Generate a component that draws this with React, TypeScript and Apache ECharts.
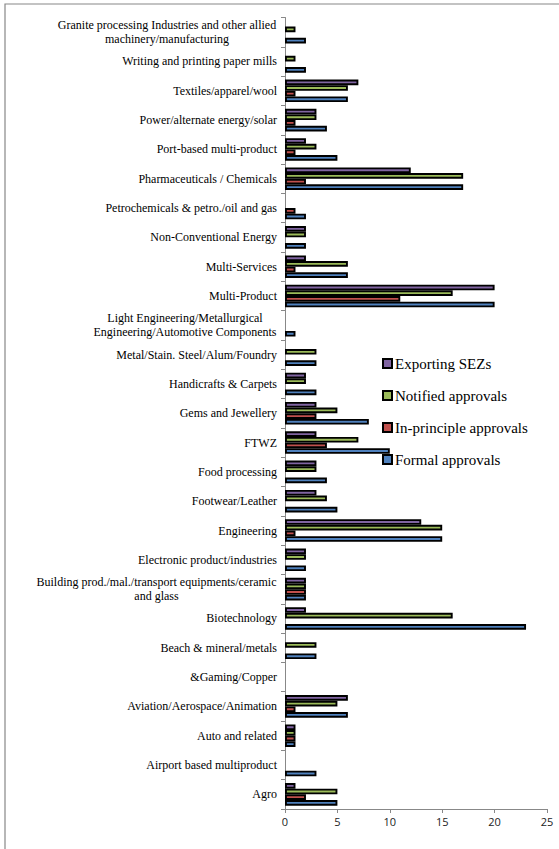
import React, { useEffect, useRef } from "react";
import * as echarts from "echarts";

const categories = [
  "Agro",
  "Airport based multiproduct",
  "Auto and related",
  "Aviation/Aerospace/Animation",
  "&Gaming/Copper",
  "Beach & mineral/metals",
  "Biotechnology",
  "Building prod./mal./transport equipments/ceramic\nand glass",
  "Electronic product/industries",
  "Engineering",
  "Footwear/Leather",
  "Food processing",
  "FTWZ",
  "Gems and Jewellery",
  "Handicrafts & Carpets",
  "Metal/Stain. Steel/Alum/Foundry",
  "Light Engineering/Metallurgical\nEngineering/Automotive Components",
  "Multi-Product",
  "Multi-Services",
  "Non-Conventional Energy",
  "Petrochemicals & petro./oil and gas",
  "Pharmaceuticals / Chemicals",
  "Port-based multi-product",
  "Power/alternate energy/solar",
  "Textiles/apparel/wool",
  "Writing and printing paper mills",
  "Granite processing Industries and other allied\nmachinery/manufacturing",
];

const formalApprovals = [5, 3, 1, 6, 0, 3, 23, 2, 2, 15, 5, 4, 10, 8, 3, 3, 1, 20, 6, 2, 2, 17, 5, 4, 6, 2, 2];
const inPrincipleApprovals = [2, 0, 1, 1, 0, 0, 0, 2, 0, 1, 0, 0, 4, 3, 0, 0, 0, 11, 1, 0, 1, 2, 1, 1, 1, 0, 0];
const notifiedApprovals = [5, 0, 1, 5, 0, 3, 16, 2, 2, 15, 4, 3, 7, 5, 2, 3, 0, 16, 6, 2, 0, 17, 3, 3, 6, 1, 1];
const exportingSEZs = [1, 0, 1, 6, 0, 0, 2, 2, 2, 13, 3, 3, 3, 3, 2, 0, 0, 20, 2, 2, 0, 12, 2, 3, 7, 0, 0];

const xTicks = [0, 5, 10, 15, 20, 25];

// first series is drawn at the top of each group
const seriesDefs = [
  { name: "Exporting SEZs", data: exportingSEZs, color: "#8064A2" },
  { name: "Notified approvals", data: notifiedApprovals, color: "#9BBB59" },
  { name: "In-principle approvals", data: inPrincipleApprovals, color: "#C0504D" },
  { name: "Formal approvals", data: formalApprovals, color: "#4F81BD" },
];

const LABEL_FONT = "Liberation Serif";

export default function App() {
  const ref = useRef<HTMLDivElement>(null);
  useEffect(() => {
    if (!ref.current) return;
    const chart = echarts.init(ref.current, undefined, { renderer: "svg" });

    const canvas = document.createElement("canvas");
    const ctx = canvas.getContext("2d")!;
    ctx.font = `12px "${LABEL_FONT}"`;
    const rich: Record<string, any> = {};
    const labelMap: Record<string, string> = {};
    categories.forEach((c, i) => {
      if (c.includes("\n")) {
        const lines = c.split("\n");
        const w = Math.ceil(Math.max(...lines.map((l) => ctx.measureText(l).width))) + 1;
        const key = "m" + i;
        rich[key] = {
          width: w,
          align: "center",
          fontFamily: LABEL_FONT,
          fontSize: 12,
          color: "#000",
          lineHeight: 14,
        };
        labelMap[c] = lines.map((l) => `{${key}|${l}}`).join("\n");
      } else {
        labelMap[c] = c;
      }
    });

    chart.setOption({
      animation: false,
      backgroundColor: "#fff",
      graphic: [
        {
          type: "rect",
          shape: { x: 5, y: 4, width: 700, height: 900 },
          style: { fill: "none", stroke: "#888", lineWidth: 1.2 },
          silent: true,
          z: -1,
        },
      ],
      legend: {
        orient: "vertical",
        left: 377,
        top: 351,
        itemWidth: 9,
        itemHeight: 9,
        itemGap: 17,
        icon: "rect",
        data: ["Exporting SEZs", "Notified approvals", "In-principle approvals", "Formal approvals"],
        textStyle: { fontFamily: LABEL_FONT, fontSize: 15, color: "#000", padding: [0, 0, 0, -2] },
        itemStyle: { borderColor: "#000", borderWidth: 2 },
      },
      grid: { left: 285, right: 12, top: 17.5, bottom: 40, containLabel: false },
      xAxis: {
        type: "value",
        min: 0,
        max: 25,
        interval: 5,
        splitLine: { show: false },
        axisLine: { show: true, lineStyle: { color: "#888", width: 1 } },
        axisTick: { show: true, length: 4, lineStyle: { color: "#888" } },
        axisLabel: {
          fontFamily: "Open Sans",
          fontSize: 11,
          color: "#222",
          margin: 7,
          formatter: (v: number) => (xTicks.includes(v) ? String(v) : ""),
        },
      },
      yAxis: {
        type: "category",
        data: categories,
        axisLine: { show: true, lineStyle: { color: "#888", width: 1 } },
        axisTick: { show: true, length: 4, lineStyle: { color: "#888" } },
        axisLabel: {
          fontFamily: LABEL_FONT,
          fontSize: 12,
          color: "#000",
          margin: 8,
          lineHeight: 14,
          interval: 0,
          formatter: (v: string) => labelMap[v],
          rich,
        },
      },
      series: seriesDefs.map((s) => ({
        name: s.name,
        type: "bar",
        data: s.data.map((v) => (v === 0 ? null : v)),
        barGap: "0%",
        barCategoryGap: "23%",
        itemStyle: { color: s.color, borderColor: "#000", borderWidth: 1.9 },
      })),
    });
    return () => chart.dispose();
  }, []);
  return (
    <div
      ref={ref}
      style={{ position: "fixed", left: 0, top: 0, width: 559, height: 849 }}
    />
  );
}
